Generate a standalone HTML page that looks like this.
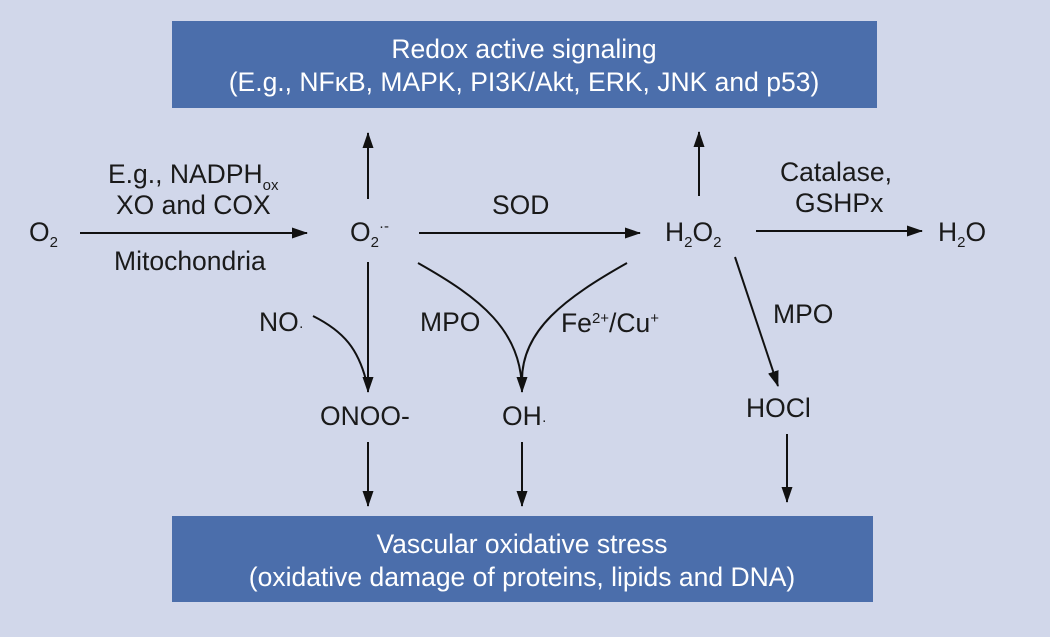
<!DOCTYPE html>
<html><head><meta charset="utf-8"><style>
html,body{margin:0;padding:0;}
body{width:1050px;height:637px;background:#d1d7ea;overflow:hidden;}
svg{display:block;font-family:"Liberation Sans",Arial,sans-serif;}
</style></head><body>
<svg width="1050" height="637" viewBox="0 0 1050 637" xmlns="http://www.w3.org/2000/svg">
<defs>
<marker id="a" markerWidth="16" markerHeight="12" refX="15" refY="6" orient="auto" markerUnits="userSpaceOnUse">
<path d="M0,0.5 L16,6 L0,11.5 z" fill="#111"/>
</marker>
</defs>
<rect x="0" y="0" width="1050" height="637" fill="#d1d7ea"/>
<rect x="172" y="21" width="705" height="87" fill="#4b6eab"/>
<rect x="172" y="516" width="701" height="86" fill="#4b6eab"/>
<g fill="#fff" font-size="26.5" text-anchor="middle">
<text x="524" y="58">Redox active signaling</text>
<text x="524" y="91">(E.g., NFκB, MAPK, PI3K/Akt, ERK, JNK and p53)</text>
<text x="522" y="553">Vascular oxidative stress</text>
<text x="522" y="586">(oxidative damage of proteins, lipids and DNA)</text>
</g>
<g fill="#1a1a1a" font-size="26.5">
<text x="29" y="241">O<tspan font-size="15" dy="6">2</tspan></text>
<text x="108" y="183">E.g., NADPH<tspan font-size="15" dy="7">ox</tspan></text>
<text x="116" y="214">XO and COX</text>
<text x="114" y="270">Mitochondria</text>
<text x="350" y="241">O<tspan font-size="15" dy="6">2</tspan><tspan font-size="15" dy="-16">·-</tspan></text>
<text x="492" y="214">SOD</text>
<text x="665" y="241">H<tspan font-size="15" dy="6">2</tspan><tspan dy="-6">O</tspan><tspan font-size="15" dy="6">2</tspan></text>
<text x="780" y="181">Catalase,</text>
<text x="795" y="212">GSHPx</text>
<text x="938" y="241">H<tspan font-size="15" dy="6">2</tspan><tspan dy="-6">O</tspan></text>
<text x="259" y="331">NO<tspan font-size="15">·</tspan></text>
<text x="420" y="331">MPO</text>
<text x="561" y="332">Fe<tspan font-size="15" dy="-9">2+</tspan><tspan dy="9">/Cu</tspan><tspan font-size="15" dy="-9">+</tspan></text>
<text x="773" y="323">MPO</text>
<text x="320" y="425">ONOO-</text>
<text x="502" y="425">OH<tspan font-size="15">·</tspan></text>
<text x="746" y="417">HOCl</text>
</g>
<g stroke="#111" stroke-width="2" fill="none" marker-end="url(#a)">
<line x1="80" y1="233" x2="307" y2="233"/>
<line x1="368" y1="199" x2="368" y2="133"/>
<line x1="419" y1="233" x2="640" y2="233"/>
<line x1="699" y1="196" x2="699" y2="132"/>
<line x1="756" y1="231" x2="922" y2="231"/>
<line x1="368" y1="262" x2="368" y2="392"/>
<line x1="735" y1="257" x2="778" y2="386"/>
<line x1="368" y1="442" x2="368" y2="506"/>
<line x1="522" y1="442" x2="522" y2="506"/>
<line x1="787" y1="434" x2="787" y2="502"/>
<path d="M418,263 C480,298 522,330 522,392"/>
</g>
<g stroke="#111" stroke-width="2" fill="none">
<path d="M627,263 C565,298 522,330 522,380"/>
<path d="M313,316 C345,332 358,350 366,380"/>
</g>
</svg>
</body></html>
